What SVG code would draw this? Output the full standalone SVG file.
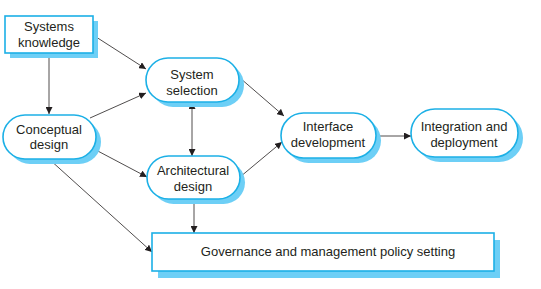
<svg xmlns="http://www.w3.org/2000/svg" width="541" height="289" viewBox="0 0 541 289">
  <style>
    .shadow { fill: #6dcff6; }
    .box { fill: #ffffff; stroke: #1cb0e6; stroke-width: 1.6; }
    .label { font-family: "Liberation Sans", Arial, sans-serif; font-size: 13px; fill: #231f20; text-anchor: middle; }
    .conn { stroke: #231f20; stroke-width: 0.8; fill: none; marker-end: url(#arrow); }
  </style>
  <defs>
    <marker id="arrow" viewBox="0 0 10 10" refX="10" refY="5" markerWidth="7" markerHeight="7" markerUnits="userSpaceOnUse" orient="auto-start-reverse">
      <path d="M0,0 L10,5 L0,10 z" fill="#231f20"/>
    </marker>
  </defs>
  <rect width="541" height="289" fill="#ffffff"/>

  <g id="connectors">
    <line class="conn" x1="93" y1="35" x2="146" y2="69"/>
    <line class="conn" x1="49" y1="53" x2="49" y2="114"/>
    <line class="conn" x1="90" y1="118" x2="146" y2="93"/>
    <line class="conn" x1="192" y1="102" x2="192" y2="156" marker-start="url(#arrow)"/>
    <line class="conn" x1="94" y1="149" x2="147" y2="177"/>
    <line class="conn" x1="240" y1="78" x2="284" y2="116"/>
    <line class="conn" x1="240" y1="177" x2="282" y2="142"/>
    <line class="conn" x1="376" y1="136" x2="411" y2="136"/>
    <line class="conn" x1="194" y1="199" x2="194" y2="233"/>
    <line class="conn" x1="49" y1="159" x2="152" y2="252"/>
  </g>

  <g id="systems-knowledge">
    <rect class="shadow" x="10" y="21" width="88" height="37"/>
    <rect class="box" x="5" y="16" width="88" height="37"/>
    <text class="label" x="49" y="31">Systems</text>
    <text class="label" x="49" y="47">knowledge</text>
  </g>

  <g id="system-selection">
    <rect class="shadow" x="151" y="63" width="93" height="44" rx="22"/>
    <rect class="box" x="146" y="58" width="93" height="44" rx="22"/>
    <text class="label" x="192" y="79">System</text>
    <text class="label" x="192" y="95">selection</text>
  </g>

  <g id="conceptual-design">
    <rect class="shadow" x="8" y="120" width="93" height="44" rx="22"/>
    <rect class="box" x="3" y="115" width="93" height="44" rx="22"/>
    <text class="label" x="49" y="134">Conceptual</text>
    <text class="label" x="49" y="149">design</text>
  </g>

  <g id="architectural-design">
    <rect class="shadow" x="152" y="161" width="93" height="43" rx="21.5"/>
    <rect class="box" x="147" y="156" width="93" height="43" rx="21.5"/>
    <text class="label" x="193" y="175">Architectural</text>
    <text class="label" x="193" y="191">design</text>
  </g>

  <g id="interface-development">
    <rect class="shadow" x="286" y="118" width="95" height="45" rx="22.5"/>
    <rect class="box" x="281" y="113" width="95" height="45" rx="22.5"/>
    <text class="label" x="328" y="131">Interface</text>
    <text class="label" x="328" y="147">development</text>
  </g>

  <g id="integration-deployment">
    <rect class="shadow" x="416" y="114" width="107" height="48" rx="24"/>
    <rect class="box" x="411" y="109" width="107" height="48" rx="24"/>
    <text class="label" x="464" y="131">Integration and</text>
    <text class="label" x="464" y="147">deployment</text>
  </g>

  <g id="governance">
    <rect class="shadow" x="158" y="240" width="342" height="38"/>
    <rect class="box" x="152" y="233" width="342" height="38"/>
    <text class="label" x="328" y="256">Governance and management policy setting</text>
  </g>
</svg>
